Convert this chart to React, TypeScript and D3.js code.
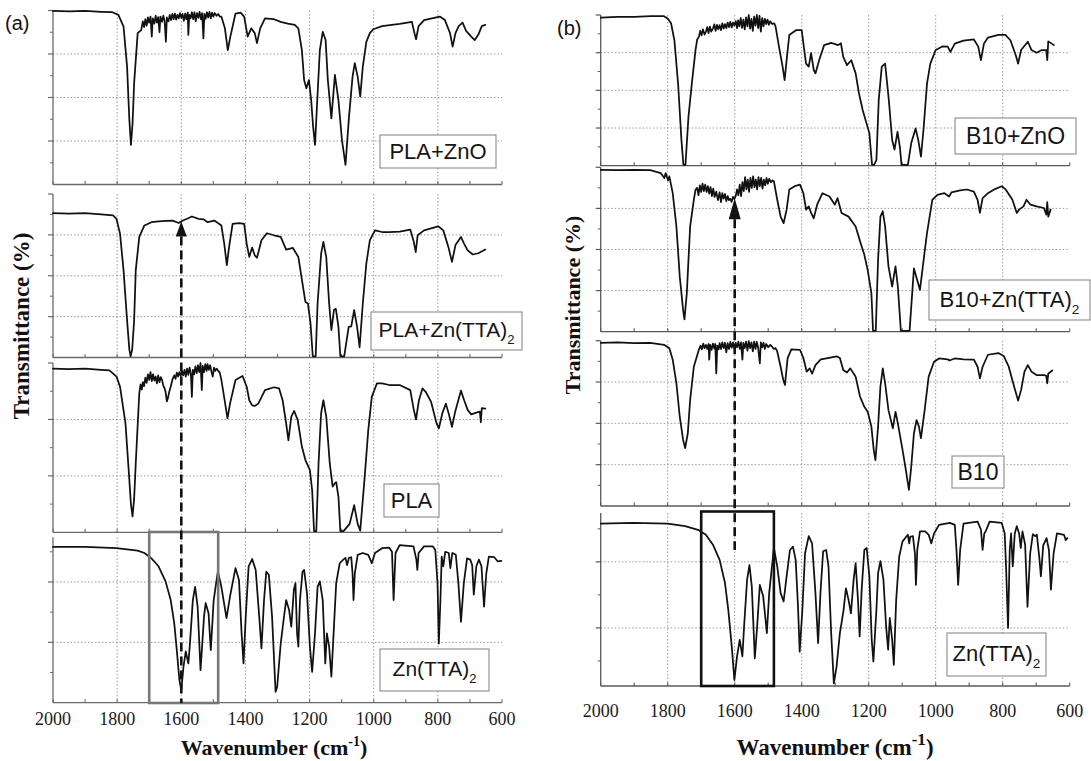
import React from "react";
import * as d3 from "d3";

type Pt = [number, number];

// ---- axis ticks (wavenumber, cm-1) ----
const WAVENUMBER_LABELS = [2000, 1800, 1600, 1400, 1200, 1000, 800, 600];
const GRID_WAVENUMBERS = [1800, 1600, 1400, 1200, 1000, 800];
const SMALL_TICKS = [2000, 1900, 1800, 1700, 1600, 1500, 1400, 1300, 1200, 1100, 1000, 900, 800, 700, 600];
const Y_MAJOR = [10, 20, 30, 40];
const Y_MINOR = [5, 15, 25, 35];

// ---- spectra: [wavenumber, transmittance (a.u.)] ----
const PLA_ZNO: Pt[] = [
  [2000, 39.9], [1950, 39.8], [1900, 39.9], [1850, 39.7], [1815, 39.6], [1796, 39.0], [1780, 36.3],
  [1769, 27.1], [1762, 15], [1757, 9.1], [1752, 14], [1747, 23.3], [1736, 34.8], [1725, 35.5],
  [1720, 37.5], [1716, 36.2], [1712, 38.0], [1708, 36.5], [1704, 38.4], [1700, 37.2], [1696, 38.6],
  [1692, 34.0], [1689, 38.2], [1684, 37.0], [1680, 38.8], [1676, 37.2], [1672, 38.5], [1668, 35.0],
  [1665, 38.6], [1660, 37.4], [1656, 38.8], [1652, 37.6], [1648, 32.8], [1645, 38.4], [1640, 37.5],
  [1636, 39.0], [1632, 37.8], [1628, 39.2], [1624, 38.0], [1620, 39.3], [1616, 37.9], [1612, 39.0],
  [1608, 38.2], [1604, 39.4], [1600, 38.3], [1596, 39.2], [1592, 37.6], [1588, 39.3], [1584, 38.0],
  [1580, 39.5], [1578, 34.4], [1575, 39.0], [1571, 38.2], [1567, 39.6], [1563, 38.0], [1559, 39.6],
  [1555, 37.5], [1551, 39.4], [1547, 38.3], [1543, 39.7], [1539, 38.0], [1535, 39.4], [1531, 33.6],
  [1528, 39.2], [1524, 38.1], [1520, 39.6], [1516, 38.4], [1512, 39.7], [1508, 38.2], [1504, 39.5],
  [1500, 38.6], [1496, 39.4], [1490, 38.8], [1485, 39.2], [1480, 38.6], [1475, 38.6],
  [1464, 35.9], [1455, 30.9], [1447, 34.0], [1431, 39.3], [1415, 39.5], [1404, 38.6], [1393, 34.0],
  [1382, 35.9], [1371, 34.8], [1364, 32.5], [1354, 35.9], [1339, 38.2], [1311, 38.0], [1290, 37.4],
  [1268, 37.0], [1246, 36.7], [1235, 35.9], [1224, 30.9], [1217, 24.0], [1210, 22.1], [1202, 24.0],
  [1195, 19.4], [1189, 13.3], [1183, 9.1], [1176, 19.4], [1168, 30.9], [1159, 35.1], [1150, 33.2],
  [1143, 24.0], [1132, 15.2], [1121, 25.2], [1110, 19.4], [1099, 10.2], [1088, 4.5], [1077, 15.6],
  [1066, 24.8], [1059, 27.9], [1050, 24.8], [1042, 20.2], [1034, 27.1], [1023, 32.8], [1012, 34.8],
  [1001, 35.7], [974, 36.4], [919, 36.9], [881, 37.4], [873, 34.8], [868, 33.4], [860, 36.4],
  [843, 37.8], [794, 38.6], [778, 37.8], [762, 34.8], [754, 31.7], [745, 34.8], [735, 36.4],
  [723, 37.2], [712, 35.3], [696, 34.0], [685, 33.2], [674, 34.4], [663, 36.4], [652, 36.7],
];

const PLA_ZNTTA: Pt[] = [
  [2000, 35.3], [1950, 35.2], [1900, 35.3], [1850, 35.0], [1813, 34.8], [1802, 33.9], [1791, 30.3],
  [1780, 21.3], [1769, 9.1], [1762, 2], [1758, 0.3], [1753, 2], [1747, 9.1], [1742, 21.3],
  [1731, 29.5], [1715, 32.3], [1693, 33.1], [1670, 33.3], [1649, 33.4], [1627, 33.5], [1608, 32.9],
  [1595, 33.5], [1580, 34.0], [1567, 34.5], [1546, 33.9], [1530, 33.8], [1518, 33.1], [1497, 33.5],
  [1475, 32.3], [1466, 27.8], [1458, 22.6], [1451, 27.0], [1440, 32.7], [1420, 32.9], [1404, 32.7],
  [1396, 27.8], [1388, 24.6], [1379, 26.9], [1371, 25.0], [1364, 24.4], [1350, 28.7], [1333, 30.4],
  [1311, 29.9], [1290, 29.5], [1273, 26.4], [1252, 26.8], [1235, 24.6], [1222, 18.1], [1213, 13.6],
  [1205, 13.2], [1197, 8.3], [1190, 0.3], [1181, 0.3], [1175, 13.2], [1164, 25.4], [1157, 28.3],
  [1148, 24.6], [1139, 13.2], [1132, 6.7], [1124, 11.6], [1118, 11.9], [1110, 7.5], [1104, 0.3],
  [1092, 0.3], [1078, 7.5], [1070, 7.6], [1061, 11.6], [1052, 7.6], [1044, 2.5], [1034, 13.2],
  [1023, 23.0], [1012, 28.7], [996, 31.1], [974, 30.7], [952, 30.7], [919, 30.8], [886, 31.3],
  [875, 28.3], [869, 25.8], [863, 29.9], [843, 31.1], [799, 32.1], [783, 31.1], [767, 27.0],
  [756, 23.4], [745, 27.5], [728, 29.5], [718, 27.8], [707, 26.2], [691, 25.2], [674, 25.5], [652, 26.4],
];

const PLA: Pt[] = [
  [2000, 29.0], [1950, 28.9], [1900, 29.0], [1850, 28.8], [1824, 28.7], [1802, 27.6], [1791, 25.8],
  [1774, 19.3], [1764, 11.0], [1757, 5], [1752, 2.8], [1747, 6], [1742, 12.2], [1731, 24.6],
  [1727, 26.2], [1723, 25.3], [1720, 26.6], [1716, 25.9], [1712, 27.4], [1708, 26.5], [1704, 28.0],
  [1700, 27.0], [1696, 28.4], [1692, 26.8], [1688, 28.0], [1684, 26.9], [1680, 27.6], [1676, 26.4],
  [1672, 27.8], [1668, 26.6], [1664, 27.5], [1660, 27.0], [1656, 26.0], [1652, 25.5], [1649, 24.9],
  [1645, 23.2], [1642, 23.7], [1638, 24.8], [1633, 25.8], [1628, 27.0], [1622, 27.8], [1618, 27.2],
  [1614, 28.3], [1610, 27.6], [1606, 28.4], [1602, 27.7], [1598, 28.6], [1594, 27.8], [1590, 28.8],
  [1586, 27.6], [1582, 29.0], [1578, 27.9], [1574, 29.2], [1570, 28.0], [1567, 24.0], [1564, 28.8],
  [1560, 28.0], [1556, 29.4], [1552, 28.2], [1548, 29.6], [1544, 28.4], [1540, 30.0], [1536, 25.2],
  [1533, 29.5], [1529, 28.4], [1525, 29.8], [1521, 28.6], [1518, 29.8], [1514, 28.8], [1510, 29.6],
  [1506, 28.5], [1502, 27.6], [1498, 29.2], [1494, 28.6], [1490, 29.0], [1486, 28.7], [1480, 28.3],
  [1475, 27.0], [1464, 23.1],
  [1456, 20.2], [1448, 22.8], [1431, 27.0], [1409, 27.7], [1396, 25.8], [1388, 23.4], [1379, 22.5],
  [1371, 22.4], [1360, 22.8], [1339, 25.2], [1311, 25.7], [1295, 25.5], [1284, 23.4], [1273, 19.3],
  [1266, 16.3], [1257, 20.5], [1248, 21.5], [1237, 19.9], [1224, 15.2], [1213, 12.8], [1199, 11.0],
  [1192, 7.5], [1186, 0.2], [1179, 0.2], [1172, 12.2], [1164, 21.1], [1157, 23.4], [1148, 20.5],
  [1137, 12.2], [1128, 8.1], [1121, 8.7], [1117, 8.9], [1110, 6.3], [1104, 0.2], [1094, 0.2],
  [1075, 1.5], [1061, 4.8], [1050, 1.5], [1042, 0.3], [1028, 9.9], [1017, 18.1], [1006, 24.0],
  [990, 26.4], [974, 26.4], [952, 26.1], [919, 26.1], [886, 25.2], [875, 21.7], [868, 20.0],
  [859, 23.4], [848, 25.5], [838, 24.9], [821, 23.1], [804, 19.3], [797, 18.4], [786, 21.1],
  [775, 22.8], [765, 20.8], [756, 18.7], [745, 21.6], [728, 25.1], [718, 23.4], [707, 21.7],
  [696, 20.9], [680, 21.2], [669, 21.4], [666, 19.5], [663, 22.0], [652, 21.9],
];

const ZNTTA_A: Pt[] = [
  [2000, 25.8], [1900, 25.8], [1802, 25.6], [1736, 25.2], [1715, 24.8], [1693, 23.9], [1671, 22.6],
  [1649, 20.1], [1633, 17.0], [1622, 13.2], [1614, 8.7], [1606, 3.8], [1600, 2.1], [1593, 6.0],
  [1586, 8.5], [1578, 6.5], [1573, 9.8], [1564, 17.0], [1557, 19.2], [1549, 15.9], [1540, 5.4],
  [1529, 14.3], [1524, 16.5], [1515, 14.8], [1508, 8.7], [1499, 17.0], [1486, 21.7], [1475, 19.2],
  [1459, 14.0], [1448, 17.6], [1431, 22.3], [1420, 20.3], [1412, 11.5], [1406, 6.5], [1399, 14.3],
  [1390, 22.6], [1379, 23.8], [1368, 22.0], [1357, 14.3], [1350, 9.0], [1342, 17.0], [1335, 21.7],
  [1327, 21.2], [1317, 14.3], [1306, 1.8], [1301, 2.6], [1290, 9.8], [1281, 13.7], [1273, 17.0],
  [1264, 15.4], [1257, 12.6], [1249, 18.7], [1244, 19.8], [1239, 11.5], [1235, 9.3], [1230, 17.0],
  [1222, 21.7], [1217, 22.0], [1208, 18.1], [1199, 9.3], [1192, 5.1], [1183, 11.5], [1175, 19.2],
  [1168, 20.1], [1159, 17.0], [1151, 6.5], [1146, 11.5], [1139, 9.3], [1132, 4.3], [1124, 12.6],
  [1117, 19.8], [1106, 23.1], [1095, 23.7], [1088, 24.0], [1083, 22.8], [1077, 24.0], [1070, 24.1],
  [1066, 21.4], [1063, 17.0], [1059, 21.4], [1050, 24.5], [1034, 24.8], [1017, 24.5], [1006, 23.1],
  [996, 24.8], [974, 25.6], [952, 25.7], [943, 25.0], [938, 17.0], [932, 24.8], [919, 26.1],
  [876, 25.9], [867, 23.7], [864, 22.0], [860, 24.8], [843, 25.9], [816, 25.9], [808, 25.3],
  [801, 19.8], [797, 9.8], [792, 17.0], [788, 24.2], [783, 22.6], [777, 25.0], [766, 24.8],
  [761, 22.3], [755, 24.8], [744, 24.5], [736, 19.8], [728, 13.4], [719, 19.8], [709, 23.9],
  [699, 23.7], [693, 22.8], [688, 17.9], [680, 22.6], [672, 23.7], [664, 22.6], [656, 15.9],
  [649, 21.4], [641, 24.2], [624, 24.1], [613, 23.4], [602, 23.5],
];

const B10_ZNO: Pt[] = [
  [2000, 39.3], [1950, 39.5], [1900, 39.5], [1850, 39.7], [1811, 39.7], [1800, 39.1], [1790, 37.8],
  [1780, 33.3], [1769, 21.8], [1759, 6.8], [1753, 0.2], [1747, 0.2], [1738, 13.0], [1728, 21.8],
  [1717, 30.7], [1712, 33.5], [1707, 34.2], [1703, 35.8], [1699, 34.6], [1695, 36.2], [1690, 34.8],
  [1686, 35.5], [1682, 36.8], [1678, 35.2], [1674, 36.9], [1670, 35.6], [1665, 36.4], [1661, 37.5],
  [1657, 35.8], [1653, 37.4], [1649, 36.2], [1645, 37.3], [1641, 36.0], [1637, 37.8], [1633, 36.4],
  [1629, 37.6], [1625, 36.5], [1621, 38.0], [1617, 36.8], [1613, 38.2], [1609, 36.7], [1605, 38.0],
  [1601, 37.2], [1597, 38.4], [1593, 36.5], [1590, 38.6], [1586, 37.0], [1582, 39.2], [1578, 36.6],
  [1574, 38.8], [1570, 36.2], [1566, 39.4], [1562, 37.0], [1558, 40.0], [1554, 36.4], [1550, 39.0],
  [1546, 35.8], [1542, 39.6], [1538, 37.2], [1534, 40.0], [1530, 36.5], [1526, 39.8], [1522, 35.6],
  [1518, 39.2], [1514, 37.0], [1510, 39.0], [1506, 37.6], [1502, 38.8], [1498, 37.4], [1494, 38.3],
  [1488, 37.6], [1482, 37.8], [1478, 36.9],
  [1466, 30.7], [1457, 26.3], [1451, 22.7], [1445, 28.0], [1437, 34.7], [1416, 36.0], [1400, 36.0],
  [1395, 32.5], [1387, 27.1], [1379, 26.3], [1372, 29.9], [1364, 25.4], [1359, 24.5], [1348, 28.0],
  [1333, 32.0], [1312, 32.6], [1291, 32.0], [1283, 32.5], [1276, 28.9], [1265, 26.7], [1252, 28.0],
  [1239, 24.5], [1229, 19.2], [1218, 14.8], [1208, 11.7], [1198, 8.6], [1190, 0.2], [1184, 0.2],
  [1177, 1.5], [1170, 17.5], [1161, 26.3], [1151, 27.1], [1140, 17.5], [1130, 6.8], [1123, 4.3],
  [1114, 9.0], [1107, 5.0], [1102, 0.2], [1083, 0.2], [1073, 6.0], [1060, 9.9], [1052, 6.8],
  [1044, 2.4], [1036, 10.0], [1026, 21.8], [1016, 27.1], [1000, 30.7], [979, 31.7], [964, 31.6],
  [956, 30.2], [943, 32.4], [917, 33.2], [886, 33.5], [873, 31.6], [865, 28.0], [856, 32.4],
  [844, 34.0], [813, 34.7], [792, 34.7], [777, 33.3], [761, 29.3], [754, 27.1], [745, 30.7],
  [725, 32.9], [714, 30.7], [699, 30.0], [683, 30.7], [670, 30.7], [667, 28.0], [664, 33.0], [647, 32.0],
];

const B10_ZNTTA: Pt[] = [
  [2000, 39.4], [1950, 39.3], [1900, 39.4], [1852, 39.3], [1821, 38.6], [1810, 37.4], [1806, 38.6],
  [1799, 36.8], [1795, 37.8], [1785, 33.7], [1774, 25.6], [1764, 13.4], [1754, 5.3], [1750, 3.0],
  [1743, 9.3], [1733, 25.6], [1722, 32.1], [1717, 34.5], [1712, 35.0], [1708, 33.2], [1704, 35.6],
  [1700, 34.0], [1696, 36.0], [1692, 34.2], [1688, 35.8], [1684, 34.0], [1680, 35.4], [1676, 33.6],
  [1672, 35.2], [1668, 33.0], [1664, 34.8], [1660, 32.8], [1655, 34.1], [1650, 32.0], [1645, 33.9],
  [1641, 31.5], [1637, 33.7], [1633, 32.4], [1629, 33.5], [1625, 31.8], [1621, 33.0], [1617, 32.0],
  [1613, 32.3], [1609, 31.6], [1605, 32.8], [1601, 32.3], [1597, 33.0], [1593, 34.6], [1589, 33.2],
  [1585, 35.8], [1581, 33.0], [1577, 36.4], [1573, 34.2], [1569, 37.6], [1565, 34.6], [1561, 37.0],
  [1557, 34.0], [1553, 37.4], [1549, 35.0], [1545, 37.8], [1541, 35.2], [1537, 37.0], [1533, 34.6],
  [1529, 37.6], [1525, 35.4], [1521, 37.4], [1517, 34.8], [1513, 37.0], [1509, 35.6], [1505, 37.4],
  [1501, 36.0], [1497, 37.2], [1492, 36.4], [1487, 36.8], [1483, 36.6],
  [1473, 32.1], [1463, 28.0], [1454, 26.4], [1445, 29.7], [1437, 34.6], [1421, 35.4], [1405, 35.8],
  [1395, 33.7], [1387, 29.7], [1379, 30.5], [1372, 28.9], [1364, 27.6], [1354, 30.9], [1338, 33.7],
  [1317, 32.9], [1301, 30.9], [1293, 32.5], [1281, 28.9], [1260, 28.0], [1239, 25.6], [1224, 21.5],
  [1213, 18.7], [1203, 15.0], [1192, 9.4], [1187, 0.2], [1179, 0.2], [1172, 17.5], [1165, 28.0],
  [1158, 29.3], [1151, 25.6], [1141, 15.9], [1130, 11.0], [1120, 15.9], [1113, 11.0], [1104, 0.2],
  [1078, 0.2], [1065, 15.4], [1047, 10.2], [1036, 17.5], [1026, 24.0], [1010, 32.1], [995, 33.3],
  [974, 33.7], [960, 32.9], [953, 33.9], [927, 34.4], [907, 34.6], [886, 34.1], [875, 32.1],
  [868, 28.9], [860, 32.5], [844, 33.7], [823, 34.7], [803, 35.4], [792, 34.7], [771, 32.1],
  [758, 28.9], [751, 29.7], [738, 30.5], [729, 32.1], [717, 30.9], [699, 30.5], [677, 30.1],
  [670, 28.5], [667, 31.5], [664, 28.0], [657, 29.7],
];

const B10: Pt[] = [
  [2000, 39.5], [1950, 39.6], [1900, 39.4], [1852, 39.5], [1811, 39.0], [1795, 38.2], [1785, 35.4],
  [1774, 29.7], [1764, 21.6], [1754, 16.0], [1748, 14.0], [1740, 17.6], [1733, 25.7], [1722, 33.7],
  [1707, 37.8], [1702, 38.8], [1698, 37.9], [1694, 39.3], [1690, 38.2], [1686, 39.0], [1682, 38.0],
  [1678, 39.2], [1676, 35.4], [1673, 39.0], [1669, 37.8], [1665, 39.3], [1661, 38.1], [1658, 39.2],
  [1655, 32.1], [1652, 38.8], [1648, 37.9], [1645, 39.4], [1641, 38.0], [1637, 39.6], [1633, 38.2],
  [1629, 39.5], [1625, 37.2], [1621, 39.4], [1617, 38.0], [1613, 39.7], [1609, 38.3], [1605, 39.6],
  [1601, 38.1], [1597, 39.5], [1593, 38.4], [1589, 39.8], [1585, 38.0], [1581, 39.6], [1577, 35.4],
  [1574, 39.5], [1570, 38.2], [1566, 39.8], [1562, 37.6], [1558, 39.9], [1554, 38.2], [1550, 39.6],
  [1546, 37.4], [1542, 39.8], [1538, 38.0], [1534, 39.7], [1530, 38.3], [1525, 34.5], [1522, 39.6],
  [1518, 38.4], [1514, 39.5], [1510, 38.0], [1506, 39.2], [1500, 38.4], [1494, 39.0], [1489, 38.6],
  [1483, 38.0], [1478, 38.2], [1473, 37.4],
  [1463, 33.7], [1455, 30.5], [1450, 29.3], [1442, 35.8], [1431, 37.9], [1405, 37.8],
  [1395, 35.8], [1385, 32.5], [1376, 33.3], [1369, 32.0], [1359, 34.1], [1343, 35.5], [1322, 35.8],
  [1296, 36.2], [1286, 35.8], [1276, 32.9], [1265, 32.3], [1255, 33.3], [1239, 31.3], [1226, 26.5],
  [1213, 24.0], [1203, 22.8], [1192, 19.2], [1185, 13.6], [1180, 11.1], [1172, 19.2], [1165, 28.9],
  [1158, 33.3], [1151, 29.7], [1141, 23.2], [1128, 18.8], [1120, 22.8], [1113, 20.0], [1099, 13.6],
  [1089, 8.7], [1080, 3.9], [1073, 9.5], [1065, 17.6], [1057, 20.8], [1050, 19.2], [1044, 16.4],
  [1033, 23.2], [1021, 31.3], [1005, 34.9], [990, 35.7], [964, 35.5], [959, 35.2], [943, 35.7],
  [917, 35.5], [886, 35.4], [875, 33.7], [868, 30.9], [860, 33.7], [844, 36.6], [813, 37.0],
  [797, 36.3], [782, 33.7], [766, 28.9], [754, 25.5], [745, 28.1], [735, 32.5], [725, 34.1],
  [714, 32.5], [699, 31.7], [677, 31.7], [670, 31.5], [667, 29.7], [664, 32.0], [652, 32.8],
];

const ZNTTA_B: Pt[] = [
  [2000, 25.8], [1904, 25.9], [1800, 25.8], [1748, 25.4], [1707, 24.8], [1686, 24.1], [1665, 22.6],
  [1645, 20.3], [1629, 16.8], [1619, 12.7], [1608, 6.7], [1601, 2.1], [1593, 5.7], [1585, 8.2],
  [1577, 5.7], [1572, 10.2], [1563, 17.3], [1556, 19.5], [1549, 16.3], [1540, 5.4], [1533, 10.2],
  [1525, 16.5], [1515, 14.8], [1504, 9.2], [1497, 15.3], [1483, 22.1], [1473, 19.3], [1463, 15.3],
  [1454, 14.0], [1445, 17.8], [1435, 21.8], [1426, 22.3], [1418, 20.3], [1411, 13.2], [1406, 6.4],
  [1398, 12.7], [1390, 21.3], [1379, 23.9], [1369, 22.8], [1359, 15.3], [1351, 7.7], [1344, 15.3],
  [1336, 21.6], [1327, 21.8], [1320, 19.3], [1312, 9.2], [1304, 1.6], [1296, 4.1], [1286, 9.2],
  [1275, 12.7], [1268, 16.0], [1260, 14.2], [1253, 12.2], [1245, 17.3], [1239, 19.8], [1232, 14.2],
  [1227, 8.7], [1221, 15.8], [1213, 21.8], [1206, 22.1], [1198, 17.8], [1191, 8.2], [1186, 4.9],
  [1177, 12.7], [1172, 18.3], [1165, 20.1], [1156, 17.3], [1148, 10.2], [1142, 6.7], [1137, 11.5],
  [1130, 8.2], [1125, 4.4], [1118, 14.2], [1109, 20.8], [1099, 23.1], [1088, 23.8], [1083, 24.1],
  [1079, 22.8], [1076, 23.8], [1068, 23.9], [1062, 21.3], [1059, 16.5], [1055, 21.8], [1047, 24.6],
  [1031, 24.6], [1021, 24.1], [1013, 22.8], [1005, 24.3], [990, 25.6], [958, 25.9], [943, 25.6],
  [938, 21.8], [933, 16.5], [927, 21.8], [917, 25.8], [875, 26.1], [865, 24.9], [860, 21.8],
  [855, 24.3], [851, 24.6], [839, 26.1], [803, 25.9], [794, 24.3], [790, 19.3], [784, 10.0],
  [779, 21.8], [775, 24.3], [770, 19.3], [764, 24.3], [758, 25.4], [751, 24.3], [746, 22.1],
  [741, 24.6], [733, 22.6], [726, 13.2], [718, 21.3], [710, 24.2], [703, 23.9], [698, 24.1],
  [690, 20.3], [686, 17.8], [679, 22.5], [669, 23.6], [662, 21.8], [656, 15.8], [648, 21.3],
  [638, 24.3], [617, 24.1], [612, 23.3], [607, 23.6],
];

// ---- layout ----
interface SubPlot {
  data: Pt[];
  name: string;
  subscript?: string;
  top: number;
  bottom: number;
  domain: [number, number];
  box: [number, number, number, number];
}

interface Panel {
  tag: string;
  tagX: number;
  tagY: number;
  xRange: [number, number];
  axisColor: string;
  labelSize: number;
  tickLabelY: number;
  xTitle: { x: number; y: number; size: number; sup: number };
  yTitle: { x: number; y: number; size: number };
  rect: { from: number; to: number; top: number; bottom: number; color: string };
  arrow: { sub: number; wn: number; head: number; half: number; endY: number };
  subs: SubPlot[];
}

const PANELS: Panel[] = [
  {
    tag: "(a)", tagX: 5, tagY: 30, xRange: [53, 502], axisColor: "#6a6a6a", labelSize: 22,
    tickLabelY: 725,
    xTitle: { x: 274, y: 755, size: 22, sup: 14 },
    yTitle: { x: 29, y: 326, size: 23 },
    rect: { from: 1700, to: 1485, top: 532, bottom: 703, color: "#777" },
    arrow: { sub: 1, wn: 1600, head: 15, half: 5.5, endY: 703 },
    subs: [
      { data: PLA_ZNO, name: "PLA+ZnO", top: 10.5, bottom: 184.5, domain: [0, 40], box: [380, 135, 116, 33] },
      { data: PLA_ZNTTA, name: "PLA+Zn(TTA)", subscript: "2", top: 194, bottom: 357.5, domain: [0, 40], box: [371, 312, 151, 38] },
      { data: PLA, name: "PLA", top: 363, bottom: 532.3, domain: [0, 30], box: [384, 484, 55, 33] },
      { data: ZNTTA_A, name: "Zn(TTA)", subscript: "2", top: 537.3, bottom: 702.7, domain: [0, 27.4], box: [380, 649, 109, 42] },
    ],
  },
  {
    tag: "(b)", tagX: 557, tagY: 35, xRange: [600.7, 1069.7], axisColor: "#5a5a5a", labelSize: 23,
    tickLabelY: 717,
    xTitle: { x: 835, y: 755, size: 23, sup: 17 },
    yTitle: { x: 580, y: 305, size: 22 },
    rect: { from: 1700, to: 1483, top: 511.5, bottom: 686, color: "#111" },
    arrow: { sub: 1, wn: 1600, head: 21, half: 6, endY: 550 },
    subs: [
      { data: B10_ZNO, name: "B10+ZnO", top: 15, bottom: 165.7, domain: [0, 40], box: [955, 118, 121, 36] },
      { data: B10_ZNTTA, name: "B10+Zn(TTA)", subscript: "2", top: 167.3, bottom: 331.7, domain: [0, 40], box: [929, 280, 161, 40] },
      { data: B10, name: "B10", top: 340.7, bottom: 506, domain: [0, 40], box: [952, 456, 52, 32] },
      { data: ZNTTA_B, name: "Zn(TTA)", subscript: "2", top: 513, bottom: 686, domain: [1.2, 27.4], box: [947, 633, 99, 43] },
    ],
  },
];

const SERIF = "'Liberation Serif', 'Times New Roman', serif";
const SANS = "'Liberation Sans', Arial, sans-serif";

function valueAt(data: Pt[], wn: number): number {
  for (let i = 0; i < data.length - 1; i++) {
    const [x0, y0] = data[i];
    const [x1, y1] = data[i + 1];
    if ((x0 - wn) * (x1 - wn) <= 0) {
      const t = x1 === x0 ? 0 : (wn - x0) / (x1 - x0);
      return y0 + t * (y1 - y0);
    }
  }
  return data[data.length - 1][1];
}

function PanelView({ p }: { p: Panel }) {
  const x = d3.scaleLinear().domain([2000, 600]).range(p.xRange);
  const [xl, xr] = p.xRange;
  const arrowSub = p.subs[p.arrow.sub];
  const arrowY = d3.scaleLinear().domain(arrowSub.domain).range([arrowSub.bottom, arrowSub.top]);
  const ax = x(p.arrow.wn);
  const tipY = arrowY(valueAt(arrowSub.data, p.arrow.wn));

  return (
    <g>
      {p.subs.map((s, i) => {
        const y = d3.scaleLinear().domain(s.domain).range([s.bottom, s.top]);
        const line = d3
          .line<Pt>()
          .x((d) => x(d[0]))
          .y((d) => y(d[1]))
          .curve(d3.curveLinear);
        const majors = Y_MAJOR.filter((v) => v > s.domain[0] && v <= s.domain[1] + 0.01);
        const minors = Y_MINOR.filter((v) => v > s.domain[0] && v < s.domain[1]);
        return (
          <g key={i}>
            {/* dotted grid */}
            {GRID_WAVENUMBERS.map((w) => (
              <line key={"gv" + w} x1={x(w)} x2={x(w)} y1={s.top} y2={s.bottom}
                stroke="#9a9a9a" strokeWidth={1} strokeDasharray="1.5,2" />
            ))}
            {majors.filter((v) => v < s.domain[1] - 0.01).map((v) => (
              <line key={"gh" + v} x1={xl} x2={xr} y1={y(v)} y2={y(v)}
                stroke="#9a9a9a" strokeWidth={1} strokeDasharray="1.5,2" />
            ))}
            {/* left axis with ticks */}
            <line x1={xl} x2={xl} y1={s.top} y2={s.bottom} stroke={p.axisColor} strokeWidth={1.3} />
            {majors.map((v) => (
              <line key={"ym" + v} x1={xl - 5} x2={xl} y1={y(v)} y2={y(v)} stroke={p.axisColor} strokeWidth={1.2} />
            ))}
            {minors.map((v) => (
              <line key={"yn" + v} x1={xl - 3} x2={xl} y1={y(v)} y2={y(v)} stroke={p.axisColor} strokeWidth={1} />
            ))}
            {/* bottom axis with small inward ticks */}
            <line x1={xl} x2={xr} y1={s.bottom} y2={s.bottom} stroke={p.axisColor} strokeWidth={1.3} />
            {SMALL_TICKS.map((w) => (
              <line key={"xt" + w} x1={x(w)} x2={x(w)} y1={s.bottom} y2={s.bottom - 3.5}
                stroke={p.axisColor} strokeWidth={1.1} />
            ))}
            {/* spectrum */}
            <path d={line(s.data) ?? ""} fill="none" stroke="#111" strokeWidth={1.75}
              strokeLinejoin="round" strokeLinecap="round" />
          </g>
        );
      })}

      {/* sample labels */}
      {p.subs.map((s, i) => {
        const [bx, by, bw, bh] = s.box;
        const fs = s.subscript ? p.labelSize - 1 : p.labelSize;
        return (
          <g key={"lb" + i}>
            <rect x={bx} y={by} width={bw} height={bh} fill="#fff" stroke="#8a8a8a" strokeWidth={1.1} />
            <text x={bx + bw / 2} y={by + bh / 2 + (s.subscript ? 0.3 : 0.36) * fs}
              textAnchor="middle" fontFamily={SANS} fontSize={fs} fill="#151515">
              {s.name}
              {s.subscript && (
                <tspan fontSize={fs * 0.62} dy={fs * 0.32}>{s.subscript}</tspan>
              )}
            </text>
          </g>
        );
      })}

      {/* highlighted band */}
      <rect x={x(p.rect.from)} y={p.rect.top} width={x(p.rect.to) - x(p.rect.from)}
        height={p.rect.bottom - p.rect.top} fill="none" stroke={p.rect.color} strokeWidth={2.6} />

      {/* marker at 1600 cm-1 */}
      <line x1={ax} x2={ax} y1={tipY + p.arrow.head} y2={p.arrow.endY} stroke="#111"
        strokeWidth={2.6} strokeDasharray="9,5" />
      <path d={`M${ax},${tipY} L${ax - p.arrow.half},${tipY + p.arrow.head} L${ax + p.arrow.half},${tipY + p.arrow.head} Z`}
        fill="#111" />

      {/* wavenumber tick labels */}
      {WAVENUMBER_LABELS.map((w) => (
        <text key={"tl" + w} x={x(w)} y={p.tickLabelY} textAnchor="middle" fontFamily={SERIF}
          fontSize={18} fill="#1a1a1a">{w}</text>
      ))}

      {/* axis titles */}
      <text x={p.xTitle.x} y={p.xTitle.y} textAnchor="middle" fontFamily={SERIF} fontWeight="bold"
        fontSize={p.xTitle.size} fill="#111">
        Wavenumber (cm
        <tspan fontSize={p.xTitle.sup} dy={-p.xTitle.size * 0.42}>-1</tspan>
        <tspan dy={p.xTitle.size * 0.42}>)</tspan>
      </text>
      <text transform={`translate(${p.yTitle.x},${p.yTitle.y}) rotate(-90)`} textAnchor="middle"
        fontFamily={SERIF} fontWeight="bold" fontSize={p.yTitle.size} fill="#111">
        Transmittance (%)
      </text>

      <text x={p.tagX} y={p.tagY} fontFamily={SANS} fontSize={20} fill="#111">{p.tag}</text>
    </g>
  );
}

export default function App() {
  return (
    <svg width={1091} height={761} viewBox="0 0 1091 761"
      style={{ position: "absolute", left: 0, top: 0, background: "#fff" }}>
      <rect width={1091} height={761} fill="#fff" />
      {PANELS.map((p) => (
        <PanelView key={p.tag} p={p} />
      ))}
    </svg>
  );
}
